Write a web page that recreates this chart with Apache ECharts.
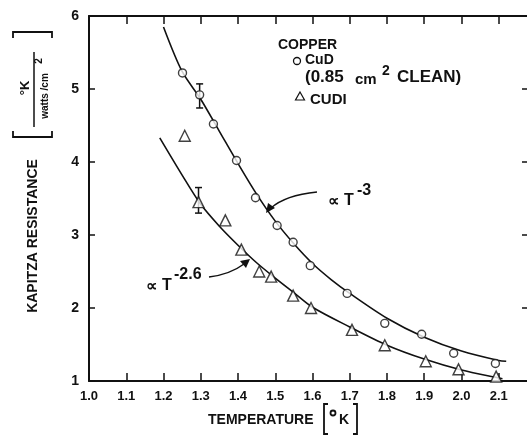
<!DOCTYPE html>
<html>
<head>
<meta charset="utf-8">
<script src="https://cdn.jsdelivr.net/npm/echarts@6/dist/echarts.min.js"></script>
<style>html,body{margin:0;padding:0;background:#fff}#c{width:527px;height:435px}</style>
</head>
<body>
<div id="c"></div>
<script>
// ---- data ----
var xTicks = [1.0,1.1,1.2,1.3,1.4,1.5,1.6,1.7,1.8,1.9,2.0,2.1,2.2];
var yTicks = [1,2,3,4,5,6];
var cudT = [1.251,1.297,1.334,1.396,1.447,1.505,1.548,1.594,1.693,1.794,1.893,1.979,2.091];
var cudR = [5.22,4.92,4.52,4.02,3.51,3.13,2.90,2.58,2.20,1.79,1.64,1.38,1.24];
var cudiT = [1.257,1.294,1.366,1.409,1.457,1.489,1.548,1.596,1.706,1.794,1.904,1.992,2.093];
var cudiR = [4.36,3.45,3.20,2.80,2.50,2.43,2.17,2.00,1.70,1.49,1.27,1.16,1.06];
var errT = [1.297,1.294];
var errLow = [4.74,3.30];
var errHigh = [5.07,3.65];
var fit3T = [1.2,1.25,1.3,1.35,1.4,1.45,1.5,1.55,1.6,1.65,1.7,1.8,1.9,2.0,2.1,2.12];
var fit3R = [5.85,5.24,4.86,4.42,3.98,3.56,3.19,2.88,2.61,2.39,2.20,1.86,1.60,1.41,1.28,1.27];
var fit26T = [1.19,1.25,1.3,1.35,1.4,1.45,1.5,1.55,1.6,1.7,1.8,1.9,2.0,2.1,2.11];
var fit26R = [4.33,3.82,3.42,3.12,2.86,2.62,2.41,2.21,2.01,1.74,1.49,1.30,1.15,1.04,1.03];

function zip(a,b){return a.map(function(v,i){return [v,b[i]];});}
var INK = '#111';
var FONT = '"Liberation Sans", Arial, sans-serif';

var chart = echarts.init(document.getElementById('c'), null, {renderer:'canvas'});

var xBase = {type:'value', min:xTicks[0], max:xTicks[xTicks.length-1], interval:0.1, splitLine:{show:false},
  axisLine:{lineStyle:{color:INK,width:2}}};
var yBase = {type:'value', min:yTicks[0], max:yTicks[yTicks.length-1], interval:1, splitLine:{show:false},
  axisLine:{lineStyle:{color:INK,width:2}}};

var option = {
  backgroundColor:'#fff',
  animation:false,
  grid:{left:89, width:447, top:16, height:365, containLabel:false, outerBoundsMode:'none'},
  xAxis:[
    Object.assign({}, xBase, {position:'bottom',
      axisTick:{inside:true,length:8,lineStyle:{color:INK,width:1.5}},
      axisLabel:{margin:9,color:INK,fontSize:13,fontWeight:'bold',fontFamily:FONT,
        formatter:function(v){return v > 2.15 ? '' : v.toFixed(1);} }}),
    Object.assign({}, xBase, {position:'top',
      axisTick:{inside:true,length:8,lineStyle:{color:INK,width:1.5}},
      axisLabel:{show:false}})
  ],
  yAxis:[
    Object.assign({}, yBase, {position:'left',
      axisTick:{inside:true,length:6,lineStyle:{color:INK,width:1.5}},
      axisLabel:{margin:10,color:INK,fontSize:14,fontWeight:'bold',fontFamily:FONT,
        formatter:function(v){return String(v);} }}),
    Object.assign({}, yBase, {position:'right',
      axisTick:{inside:true,length:14,lineStyle:{color:INK,width:1.5}},
      axisLabel:{show:false}})
  ],
  series:[
    {type:'line', data:zip(fit3T,fit3R), smooth:0.3, showSymbol:false, symbol:'none',
     lineStyle:{color:INK,width:1.6}, z:2},
    {type:'line', data:zip(fit26T,fit26R), smooth:0.3, showSymbol:false, symbol:'none',
     lineStyle:{color:INK,width:1.6}, z:2},
    {type:'scatter', data:zip(cudT,cudR), symbol:'circle', symbolSize:8,
     itemStyle:{color:'#fff',borderColor:INK,borderWidth:1.4}, z:4},
    {type:'scatter', data:zip(cudiT,cudiR), symbol:'triangle', symbolSize:11,
     itemStyle:{color:'#fff',borderColor:INK,borderWidth:1.4}, z:4},
    {type:'custom', z:3,
     data: errT.map(function(t,i){return [t,errLow[i],errHigh[i]];}),
     renderItem:function(params, api){
       var lo = api.coord([api.value(0), api.value(1)]);
       var hi = api.coord([api.value(0), api.value(2)]);
       var w = 3.5;
       return {type:'group', children:[
         {type:'line', shape:{x1:lo[0],y1:lo[1],x2:hi[0],y2:hi[1]}, style:{stroke:INK,lineWidth:1.5}},
         {type:'line', shape:{x1:lo[0]-w,y1:lo[1],x2:lo[0]+w,y2:lo[1]}, style:{stroke:INK,lineWidth:1.5}},
         {type:'line', shape:{x1:hi[0]-w,y1:hi[1],x2:hi[0]+w,y2:hi[1]}, style:{stroke:INK,lineWidth:1.5}}
       ]};
     }}
  ],
  graphic:[
    // legend block
    {type:'text', left:278, top:38, style:{text:'COPPER', fill:INK, font:'bold 14px '+FONT}},
    {type:'circle', shape:{cx:297, cy:61, r:3.5}, style:{fill:'#fff', stroke:INK, lineWidth:1.3}},
    {type:'text', left:305, top:53, style:{text:'CuD', fill:INK, font:'bold 14px '+FONT}},
    {type:'text', left:305, top:69, style:{text:'(0.85', fill:INK, font:'bold 17px '+FONT}},
    {type:'text', left:355, top:72, style:{text:'cm', fill:INK, font:'bold 15px '+FONT}},
    {type:'text', left:382, top:64, style:{text:'2', fill:INK, font:'bold 14px '+FONT}},
    {type:'text', left:397, top:69, style:{text:'CLEAN)', fill:INK, font:'bold 17px '+FONT}},
    {type:'polygon', shape:{points:[[300,92],[304.5,100],[295.5,100]]}, style:{fill:'#fff', stroke:INK, lineWidth:1.2}},
    {type:'text', left:310, top:92, style:{text:'CUDI', fill:INK, font:'bold 15px '+FONT}},
    // T^-3 annotation
    {type:'text', left:328, top:194, style:{text:'\u221D', fill:INK, font:'bold 16px '+FONT}},
    {type:'text', left:344, top:193, style:{text:'T', fill:INK, font:'bold 16px '+FONT}},
    {type:'text', left:357, top:183, style:{text:'-3', fill:INK, font:'bold 16px '+FONT}},
    {type:'bezierCurve', shape:{x1:317,y1:192,cpx1:298,cpy1:194,cpx2:281,cpy2:199,x2:271,y2:208},
     style:{stroke:INK,lineWidth:1.5,fill:null}},
    {type:'polygon', shape:{points:[[266,213],[268,203],[275,208]]}, style:{fill:INK}},
    // T^-2.6 annotation
    {type:'text', left:146, top:279, style:{text:'\u221D', fill:INK, font:'bold 16px '+FONT}},
    {type:'text', left:162, top:278, style:{text:'T', fill:INK, font:'bold 16px '+FONT}},
    {type:'text', left:174, top:267, style:{text:'-2.6', fill:INK, font:'bold 16px '+FONT}},
    {type:'bezierCurve', shape:{x1:209,y1:277,cpx1:225,cpy1:275,cpx2:236,cpy2:270,x2:244,y2:264},
     style:{stroke:INK,lineWidth:1.5,fill:null}},
    {type:'polygon', shape:{points:[[250,259],[246,268],[240,261]]}, style:{fill:INK}},
    // x axis name
    {type:'text', left:208, top:413, style:{text:'TEMPERATURE', fill:INK, font:'bold 14px '+FONT}},
    {type:'polyline', shape:{points:[[328,404],[324,404],[324,434],[328,434]]}, style:{stroke:INK,lineWidth:1.8,fill:null}},
    {type:'circle', shape:{cx:333, cy:413, r:2.5}, style:{fill:'none', stroke:INK, lineWidth:1.8}},
    {type:'text', left:339, top:413, style:{text:'K', fill:INK, font:'bold 14px '+FONT}},
    {type:'polyline', shape:{points:[[353,404],[357,404],[357,434],[353,434]]}, style:{stroke:INK,lineWidth:1.8,fill:null}},
    // y axis name (rotated)
    {type:'text', x:33, y:236, rotation:Math.PI/2,
     style:{text:'KAPITZA RESISTANCE', fill:INK, font:'bold 14px '+FONT, align:'center', verticalAlign:'middle'}},
    // bracket with fraction
    {type:'polyline', shape:{points:[[13,131],[13,137],[52,137],[52,131]]}, style:{stroke:INK,lineWidth:1.8,fill:null}},
    {type:'polyline', shape:{points:[[13,38],[13,32],[52,32],[52,38]]}, style:{stroke:INK,lineWidth:1.8,fill:null}},
    {type:'line', shape:{x1:34,y1:52,x2:34,y2:127}, style:{stroke:INK,lineWidth:1.5}},
    {type:'text', x:25, y:88, rotation:Math.PI/2,
     style:{text:'\u00B0K', fill:INK, font:'bold 13px '+FONT, align:'center', verticalAlign:'middle'}},
    {type:'text', x:45, y:96, rotation:Math.PI/2,
     style:{text:'watts /cm', fill:INK, font:'bold 10px '+FONT, align:'center', verticalAlign:'middle'}},
    {type:'text', x:39, y:61, rotation:Math.PI/2,
     style:{text:'2', fill:INK, font:'bold 10px '+FONT, align:'center', verticalAlign:'middle'}}
  ]
};
chart.setOption(option);
</script>
</body>
</html>
